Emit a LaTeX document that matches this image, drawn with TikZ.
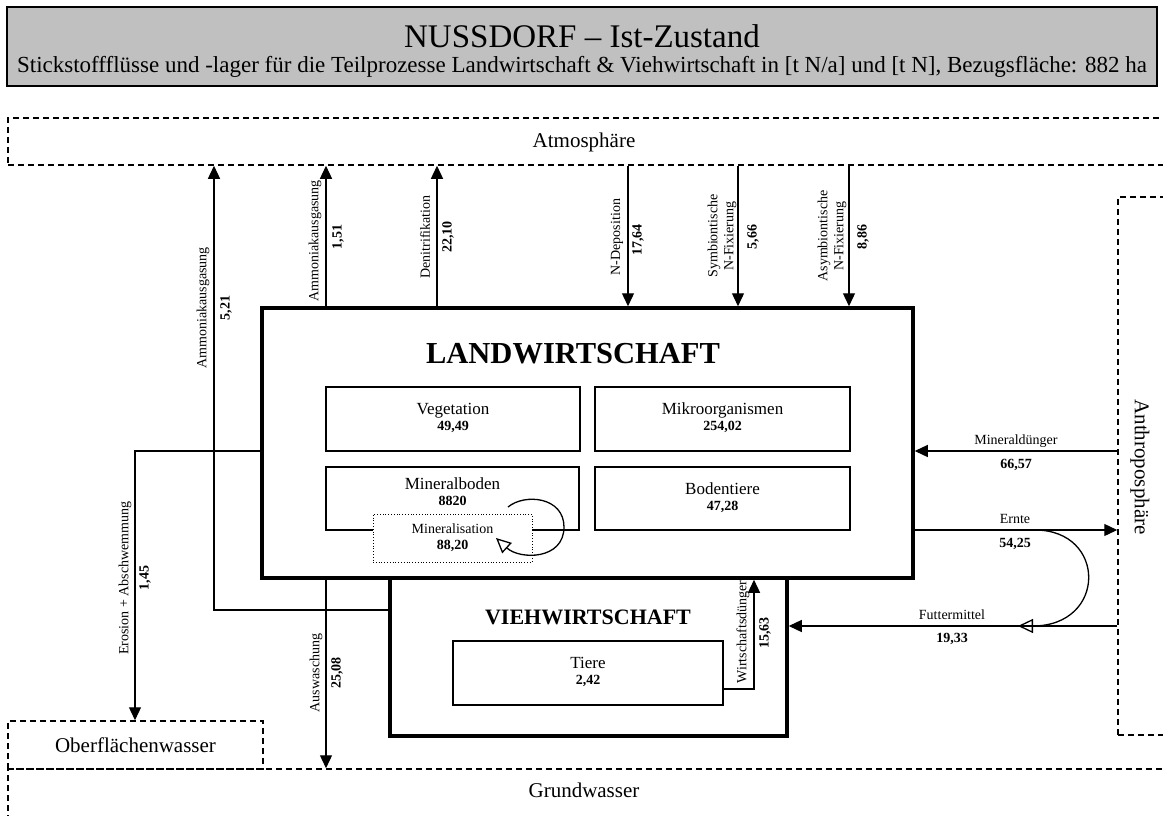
\documentclass[tikz,border=0pt]{standalone}
\usepackage{fontspec}
\setmainfont{Liberation Serif}
\usetikzlibrary{arrows.meta}
\definecolor{headgray}{HTML}{C0C0C0}

\begin{document}
\begin{tikzpicture}[x=1pt,y=-1pt,
	stockbox/.style={draw,line width=1.3pt,fill=white,inner sep=0pt,align=center,font=\fontsize{14}{16}\selectfont},
	procbox/.style={draw,line width=3.5pt,inner sep=0pt},
	envbox/.style={draw,line width=1.5pt,dash pattern=on 6pt off 4pt,inner sep=0pt},
	envtext/.style={font=\fontsize{21}{23}\selectfont},
	flowarrow/.style={line width=1.3pt,-{Triangle[length=13pt,width=12pt]}},
	loopflow/.style={line width=1.3pt,-{Triangle[open,length=15pt,width=14pt]}},
	flowlbl/.style={font=\fontsize{14}{16}\selectfont,align=center},
	flowval/.style={font=\fontsize{14}{16}\selectfont\bfseries}]
	\path[use as bounding box,clip] (0,0) rectangle (1163,816);
	% header
	\node (head) [draw,fill=headgray,line width=1.3pt,minimum width=1150,minimum height=79] at (582,46.5) {};
	\node (title) [font=\fontsize{33}{35}\selectfont] at (582,36) {NUSSDORF -- Ist-Zustand};
	\node (subtitle) [font=\fontsize{23}{25}\selectfont] at (582,67) {Stickstoffflüsse und -lager für die Teilprozesse Landwirtschaft \& Viehwirtschaft in [t N/a] und [t N], Bezugsfläche: 882 ha};
	% environment
	\node (atmo) [envbox,minimum width=1172,minimum height=47] at (594,141.5) {};
	\node [envtext] at (584,142) {Atmosphäre};
	\node (anthro) [envbox,minimum width=60,minimum height=538] at (1148,466) {};
	\node [envtext,rotate=-90] at (1140,467) {Anthroposphäre};
	\node (ofw) [envbox,envtext,minimum width=255,minimum height=48] at (135.5,745) {Oberflächenwasser};
	\node (gw) [envbox,minimum width=1172,minimum height=60] at (594,799) {};
	\node [envtext] at (584,790) {Grundwasser};
	% processes
	\node (vieh) [procbox,minimum width=397,minimum height=158] at (588.5,657) {};
	\node (land) [procbox,minimum width=651,minimum height=270] at (587.5,443) {};
	\node (landtitle) [font=\fontsize{30.5}{32}\selectfont\bfseries] at (573,354) {LANDWIRTSCHAFT};
	\node (viehtitle) [font=\fontsize{22}{24}\selectfont\bfseries] at (588,617) {VIEHWIRTSCHAFT};
	% stocks
	\node (veg) [stockbox,minimum width=254,minimum height=64] at (453,419) {{\fontsize{17}{16}\selectfont Vegetation}\\\textbf{49,49}\\[-12pt]};
	\node (mikro) [stockbox,minimum width=255,minimum height=64] at (722.5,419) {{\fontsize{17}{16}\selectfont Mikroorganismen}\\\textbf{254,02}\\[-12pt]};
	\node (minb) [stockbox,minimum width=253,minimum height=63] at (452.5,498.5) {{\fontsize{17}{16}\selectfont Mineralboden}\\\textbf{8820}\\[-2pt]};
	\node (bodt) [stockbox,minimum width=255,minimum height=63] at (722.5,498.5) {{\fontsize{17}{16}\selectfont Bodentiere}\\\textbf{47,28}\\[-12pt]};
	\node (minl) [stockbox,line width=0.8pt,dotted,minimum width=159,minimum height=48] at (452.5,538) {Mineralisation\\\textbf{88,20}};
	\node (tiere) [stockbox,minimum width=270,minimum height=64] at (588,673) {{\fontsize{17}{16}\selectfont Tiere}\\\textbf{2,42}\\[-12pt]};
	% flows
	\coordinate (ammv) at (214,610);
	\coordinate (amml) at (326,0);
	\coordinate (deni) at (437,0);
	\coordinate (ndep) at (628,0);
	\coordinate (symb) at (738,0);
	\coordinate (asym) at (849,0);
	\coordinate (mind) at (0,451);
	\coordinate (ernt) at (0,530);
	\coordinate (futt) at (0,626);
	\coordinate (eros) at (135,451);
	\coordinate (ausw) at (326,0);
	\coordinate (wirt) at (754,689);
	\draw[flowarrow] (vieh.west |- ammv) -- (ammv) -- (ammv |- atmo.south);
	\draw[flowarrow] (land.north -| amml) -- (amml |- atmo.south);
	\draw[flowarrow] (land.north -| deni) -- (deni |- atmo.south);
	\draw[flowarrow] (atmo.south -| ndep) -- (ndep |- land.north);
	\draw[flowarrow] (atmo.south -| symb) -- (symb |- land.north);
	\draw[flowarrow] (atmo.south -| asym) -- (asym |- land.north);
	\draw[flowarrow] (anthro.west |- mind) -- (land.east |- mind);
	\draw[flowarrow] (land.east |- ernt) -- (anthro.west |- ernt);
	\draw[flowarrow] (anthro.west |- futt) -- (vieh.east |- futt);
	\draw[flowarrow] (land.west |- eros) -- (eros) -- (eros |- ofw.north);
	\draw[flowarrow] (land.south -| ausw) -- (ausw |- gw.north);
	\draw[flowarrow] (tiere.east |- wirt) -- (wirt) -- (wirt |- land.south);
	% loops
	\coordinate (mins) at (508,507);
	\coordinate (mine) at (496,538);
	\coordinate (erns) at (1035,530);
	\coordinate (fute) at (1018,626);
	\draw[loopflow] (mins) .. controls (525,493) and (564,497) .. (564,527) .. controls (564,560) and (520,560) .. (mine);
	\draw[loopflow] (erns) .. controls (1107,530) and (1107,626) .. (fute);
	% labels
	\path node [flowlbl,rotate=90] at (203,308) {Ammoniakausgasung}
		  node [flowval,rotate=90] at (226,308) {5,21}
		  node [flowlbl,rotate=90] at (315,241) {Ammoniakausgasung}
		  node [flowval,rotate=90] at (338,237) {1,51}
		  node [flowlbl,rotate=90] at (425,237) {Denitrifikation}
		  node [flowval,rotate=90] at (448,237) {22,10}
		  node [flowlbl,rotate=90] at (617,237) {N-Deposition}
		  node [flowval,rotate=90] at (638,240) {17,64}
		  node [flowlbl,rotate=90] at (722,236) {Symbiontische\\N-Fixierung}
		  node [flowval,rotate=90] at (753,237) {5,66}
		  node [flowlbl,rotate=90] at (832,236) {Asymbiontische\\N-Fixierung}
		  node [flowval,rotate=90] at (863,237) {8,86}
		  node [flowlbl] at (1016,441) {Mineraldünger}
		  node [flowval] at (1016,465) {66,57}
		  node [flowlbl] at (1015,519) {Ernte}
		  node [flowval] at (1015,544) {54,25}
		  node [flowlbl] at (952,615) {Futtermittel}
		  node [flowval] at (952,639) {19,33}
		  node [flowlbl,rotate=90] at (125,578) {Erosion + Abschwemmung}
		  node [flowval,rotate=90] at (145,578) {1,45}
		  node [flowlbl,rotate=90] at (316,673) {Auswaschung}
		  node [flowval,rotate=90] at (337,673) {25,08}
		  node [flowlbl,rotate=90] at (743,632) {Wirtschaftsdünger}
		  node [flowval,rotate=90] at (765,633) {15,63};
\end{tikzpicture}
\end{document}
